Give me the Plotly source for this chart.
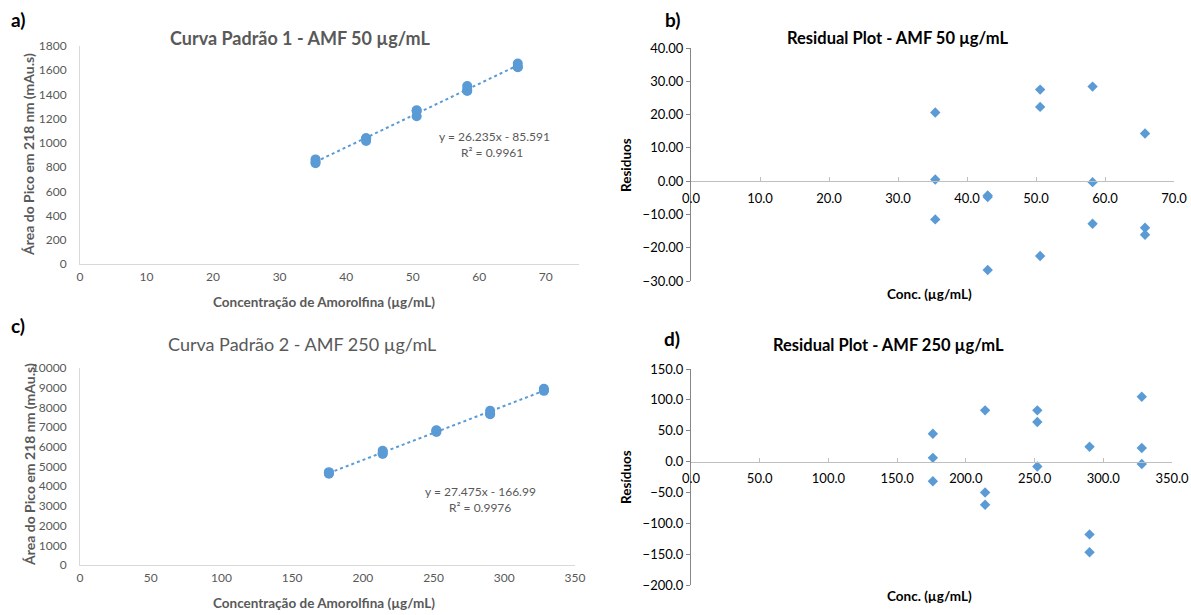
import plotly.graph_objects as go

# ---- Curva 1 (AMF 50 µg/mL) ----
conc1 = [35.4, 35.4, 35.4, 43.0, 43.0, 43.0, 50.6, 50.6, 50.6,
         58.2, 58.2, 58.2, 65.8, 65.8, 65.8]
area1 = [863.7, 843.6, 831.6, 1038.2, 1037.7, 1015.8, 1269.4, 1264.2, 1219.4,
         1469.7, 1441.0, 1428.5, 1655.0, 1626.7, 1624.6]
resid1 = [20.6, 0.5, -11.5, -4.3, -4.8, -26.7, 27.5, 22.3, -22.5,
          28.4, -0.3, -12.8, 14.3, -14.0, -16.1]
slope1, intercept1, r2_1 = 26.235, -85.591, 0.9961

# ---- Curva 2 (AMF 250 µg/mL) ----
conc2 = [176.0, 176.0, 176.0, 214.0, 214.0, 214.0, 252.0, 252.0, 252.0,
         290.0, 290.0, 290.0, 328.0, 328.0, 328.0]
area2 = [4713.6, 4674.6, 4636.6, 5795.7, 5662.7, 5642.7, 6839.7, 6820.7, 6748.7,
         7824.8, 7682.8, 7653.8, 8949.8, 8866.8, 8840.8]
resid2 = [45.0, 6.0, -32.0, 83.0, -50.0, -70.0, 83.0, 64.0, -8.0,
          24.0, -118.0, -147.0, 105.0, 22.0, -4.0]
slope2, intercept2, r2_2 = 27.475, -166.99, 0.9976

BLUE = "#5B9BD5"
GREY_TXT = "#595959"
FONT = "Lato"
W, H = 1191, 615


def px_x(p):
    return p / W


def px_y(p):
    return 1 - p / H


# plot-area boxes in pixels: (left, right, top, bottom)
box_a = (80, 579, 46, 264)
box_b = (691, 1174, 48, 281)
box_c = (80, 575, 368, 565)
box_d = (691, 1172, 369, 585)


def dom(box):
    l, r, t, b = box
    return [px_x(l), px_x(r)], [px_y(b), px_y(t)]


fig = go.Figure()

# trend lines from the regression equations
x1 = [min(conc1), max(conc1)]
fig.add_trace(go.Scatter(x=x1, y=[slope1 * v + intercept1 for v in x1], mode="lines",
                         line=dict(color=BLUE, width=2, dash="dot"),
                         xaxis="x", yaxis="y", hoverinfo="skip"))
fig.add_trace(go.Scatter(x=conc1, y=area1, mode="markers",
                         marker=dict(color=BLUE, size=10, symbol="circle"),
                         xaxis="x", yaxis="y"))
fig.add_trace(go.Scatter(x=conc1, y=resid1, mode="markers",
                         marker=dict(color=BLUE, size=8, symbol="diamond"),
                         xaxis="x2", yaxis="y2"))
x2 = [min(conc2), max(conc2)]
fig.add_trace(go.Scatter(x=x2, y=[slope2 * v + intercept2 for v in x2], mode="lines",
                         line=dict(color=BLUE, width=2, dash="dot"),
                         xaxis="x3", yaxis="y3", hoverinfo="skip"))
fig.add_trace(go.Scatter(x=conc2, y=area2, mode="markers",
                         marker=dict(color=BLUE, size=10, symbol="circle"),
                         xaxis="x3", yaxis="y3"))
fig.add_trace(go.Scatter(x=conc2, y=resid2, mode="markers",
                         marker=dict(color=BLUE, size=8, symbol="diamond"),
                         xaxis="x4", yaxis="y4"))

da_x, da_y = dom(box_a)
db_x, db_y = dom(box_b)
dc_x, dc_y = dom(box_c)
dd_x, dd_y = dom(box_d)

curve_tick = dict(family=FONT, size=12, color=GREY_TXT)
resid_tick = dict(family=FONT, size=13, color="black")

# zero-line positions for the residual x axes
zero_b = db_y[0] + (0 - (-30)) / (40 - (-30)) * (db_y[1] - db_y[0])
zero_d = dd_y[0] + (0 - (-200)) / (150 - (-200)) * (dd_y[1] - dd_y[0])

common = dict(showline=True, linewidth=1, showgrid=False, zeroline=False,
              automargin=False, ticklabeloverflow="allow")

fig.update_layout(
    width=W, height=H, margin=dict(l=0, r=0, t=0, b=0),
    paper_bgcolor="white", plot_bgcolor="white", showlegend=False,
    font=dict(family=FONT),
    xaxis=dict(domain=da_x, range=[0, 75], tickvals=list(range(0, 80, 10)),
               linecolor="#D9D9D9", ticks="", tickfont=curve_tick, anchor="y",
               ticklabelstandoff=2, **common),
    yaxis=dict(domain=da_y, range=[0, 1800], dtick=200, tickformat="d",
               linecolor="#D9D9D9", ticks="", tickfont=curve_tick, anchor="x",
               ticklabelstandoff=10, **common),
    xaxis2=dict(domain=db_x, range=[0, 70], dtick=10, tickformat=".1f",
                linecolor="#BFBFBF", ticks="inside", ticklen=4, tickcolor="#BFBFBF",
                tickfont=resid_tick, anchor="free", position=zero_b, side="bottom",
                ticklabelstandoff=5, **common),
    yaxis2=dict(domain=db_y, range=[-30, 40], dtick=10, tickformat=".2f",
                linecolor="#868686", ticks="outside", ticklen=4, tickcolor="#868686",
                tickfont=resid_tick, anchor="x2", **common),
    xaxis3=dict(domain=dc_x, range=[0, 350], dtick=50,
                linecolor="#D9D9D9", ticks="", tickfont=curve_tick, anchor="y3",
                ticklabelstandoff=2, **common),
    yaxis3=dict(domain=dc_y, range=[0, 10000], dtick=1000, tickformat="d",
                linecolor="#D9D9D9", ticks="", tickfont=curve_tick, anchor="x3",
                ticklabelstandoff=10, **common),
    xaxis4=dict(domain=dd_x, range=[0, 350], dtick=50, tickformat=".1f",
                linecolor="#BFBFBF", ticks="inside", ticklen=4, tickcolor="#BFBFBF",
                tickfont=resid_tick, anchor="free", position=zero_d, side="bottom",
                ticklabelstandoff=5, **common),
    yaxis4=dict(domain=dd_y, range=[-200, 150], dtick=50, tickformat=".1f",
                linecolor="#868686", ticks="outside", ticklen=4, tickcolor="#868686",
                tickfont=resid_tick, anchor="x4", **common),
)


def note(x, y, text, size, color, bold=False, angle=0, xanchor="center"):
    if bold:
        text = f"<b>{text}</b>"
    fig.add_annotation(x=px_x(x), y=px_y(y), xref="paper", yref="paper", text=text,
                       showarrow=False, textangle=angle, xanchor=xanchor, yanchor="middle",
                       font=dict(family=FONT, size=size, color=color))


# panel letters
note(18, 20, "a)", 19, "black", bold=True)
note(672, 20, "b)", 19, "black", bold=True)
note(18, 325, "c)", 19, "black", bold=True)
note(672, 338, "d)", 19, "black", bold=True)

# chart titles
note(300, 38, "Curva Padrão 1 - AMF 50 µg/mL", 18, GREY_TXT, bold=True)
note(897, 38, "Residual Plot - AMF 50 µg/mL", 16.5, "black", bold=True)
note(302, 344, "Curva Padrão 2 - AMF 250 µg/mL", 18, GREY_TXT)
note(888, 345, "Residual Plot - AMF 250 µg/mL", 16.5, "black", bold=True)

# axis titles
note(324, 302, "Concentração de Amorolfina (µg/mL)", 13.5, GREY_TXT, bold=True)
note(29, 155, "Área do Pico em 218 nm (mAu.s)", 14, GREY_TXT, bold=True, angle=-90)
note(324, 603, "Concentração de Amorolfina (µg/mL)", 13.5, GREY_TXT, bold=True)
note(29, 465, "Área do Pico em 218 nm (mAu.s)", 14, GREY_TXT, bold=True, angle=-90)
note(929, 294, "Conc. (µg/mL)", 13.5, "black", bold=True)
note(626, 165, "Residuos", 13.5, "black", bold=True, angle=-90)
note(929, 596, "Conc. (µg/mL)", 13.5, "black", bold=True)
note(626, 477, "Resíduos", 13.5, "black", bold=True, angle=-90)

# regression equations
note(494, 136, f"y = {slope1}x - {abs(intercept1)}", 12, GREY_TXT)
note(492, 152, f"R² = {r2_1}", 12, GREY_TXT)
note(480, 491, f"y = {slope2}x - {abs(intercept2)}", 12, GREY_TXT)
note(480, 507, f"R² = {r2_2}", 12, GREY_TXT)

fig.write_html("out.html")
